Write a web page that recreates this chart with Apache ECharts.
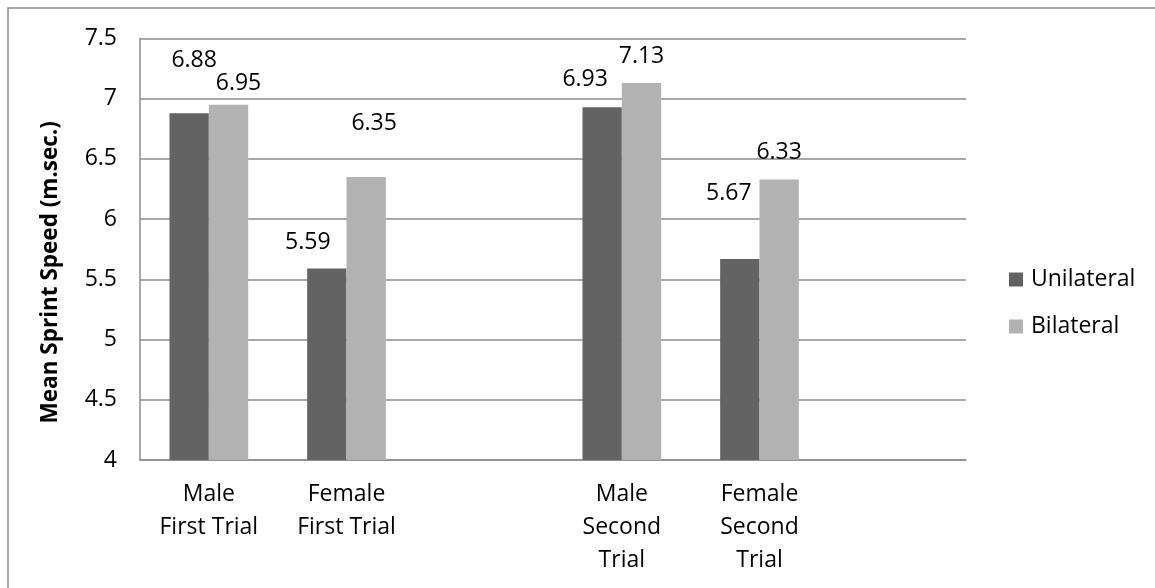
<!DOCTYPE html>
<html>
<head>
<meta charset="utf-8">
<script src="https://cdn.jsdelivr.net/npm/echarts@6/dist/echarts.min.js"></script>
<style>
  html, body { margin: 0; padding: 0; background: #fff; }
  #chart { width: 1155px; height: 588px; }
</style>
</head>
<body>
<div id="chart"></div>
<script>
// ---- data ----
const categories = ['Male\nFirst Trial', 'Female\nFirst Trial', '', 'Male\nSecond\nTrial', 'Female\nSecond\nTrial', ''];
const seriesNames = ['Unilateral', 'Bilateral'];
const unilateral = [6.88, 5.59, null, 6.93, 5.67, null];
const bilateral = [6.95, 6.35, null, 7.13, 6.33, null];
const yTicks = { min: 4, max: 7.5, interval: 0.5 };
const yTitle = 'Mean Sprint Speed (m.sec.)';

// ---- chart ----
const FONT = '"Open Sans", "Noto Sans", sans-serif';
const chart = echarts.init(document.getElementById('chart'), null, { renderer: 'canvas' });

function withLabelOffsets(values, offsets) {
  return values.map((v, i) => v == null ? null : {
    value: v,
    label: { offset: offsets[i] }
  });
}
const uniOffsets = [[5, -36], [-19, -10], [0, 0], [-17, -11], [-11, -49], [0, 0]];
const biOffsets = [[10, -5], [8, -37], [0, 0], [0, -10], [0, -10], [0, 0]];

const labelStyle = {
  show: true,
  position: 'top',
  distance: 5,
  color: '#000',
  fontFamily: FONT,
  fontSize: 23
};

chart.setOption({
  animation: false,
  backgroundColor: '#fff',
  textStyle: { fontFamily: FONT },
  grid: { left: 140, top: 38.5, right: 189, bottom: 128, containLabel: false },
  legend: {
    orient: 'vertical',
    left: 1009,
    top: 268,
    padding: 0,
    itemWidth: 14,
    itemHeight: 14,
    itemGap: 24,
    icon: 'rect',
    textStyle: { fontFamily: FONT, fontSize: 23, color: '#000', lineHeight: 23, padding: [0, 0, 0, 3] },
    data: seriesNames
  },
  xAxis: {
    type: 'category',
    data: categories,
    axisLine: { show: true, lineStyle: { color: '#8c8c8c', width: 1.5 } },
    axisTick: { show: false },
    axisLabel: {
      interval: 0,
      margin: 18,
      color: '#000',
      fontFamily: FONT,
      fontSize: 23,
      lineHeight: 33
    },
    splitLine: { show: false }
  },
  yAxis: {
    type: 'value',
    min: yTicks.min,
    max: yTicks.max,
    interval: yTicks.interval,
    name: yTitle,
    nameLocation: 'middle',
    nameRotate: 90,
    nameGap: 78,
    nameTextStyle: {
      fontFamily: FONT,
      fontSize: 22.5,
      fontWeight: 'bold',
      color: '#000',
      padding: [0, 46, 0, 0]
    },
    axisLine: { show: true, lineStyle: { color: '#8c8c8c', width: 1.5 } },
    axisTick: { show: false },
    axisLabel: {
      margin: 23,
      color: '#000',
      fontFamily: FONT,
      fontSize: 23,
      formatter: v => String(v)
    },
    splitLine: { show: true, lineStyle: { color: '#8c8c8c', width: 1.5 } }
  },
  series: [
    {
      name: seriesNames[0],
      type: 'bar',
      data: withLabelOffsets(unilateral, uniOffsets),
      itemStyle: { color: '#636363' },
      barGap: '0%',
      barCategoryGap: '42.857%',
      label: labelStyle
    },
    {
      name: seriesNames[1],
      type: 'bar',
      data: withLabelOffsets(bilateral, biOffsets),
      itemStyle: { color: '#b2b2b2' },
      barGap: '0%',
      barCategoryGap: '42.857%',
      label: labelStyle
    }
  ],
  graphic: [
    {
      type: 'polyline',
      silent: true,
      shape: { points: [[8, 600], [8, 8], [1200, 8]] },
      style: { stroke: '#8c8c8c', lineWidth: 1.5, fill: null }
    }
  ]
});
</script>
</body>
</html>
